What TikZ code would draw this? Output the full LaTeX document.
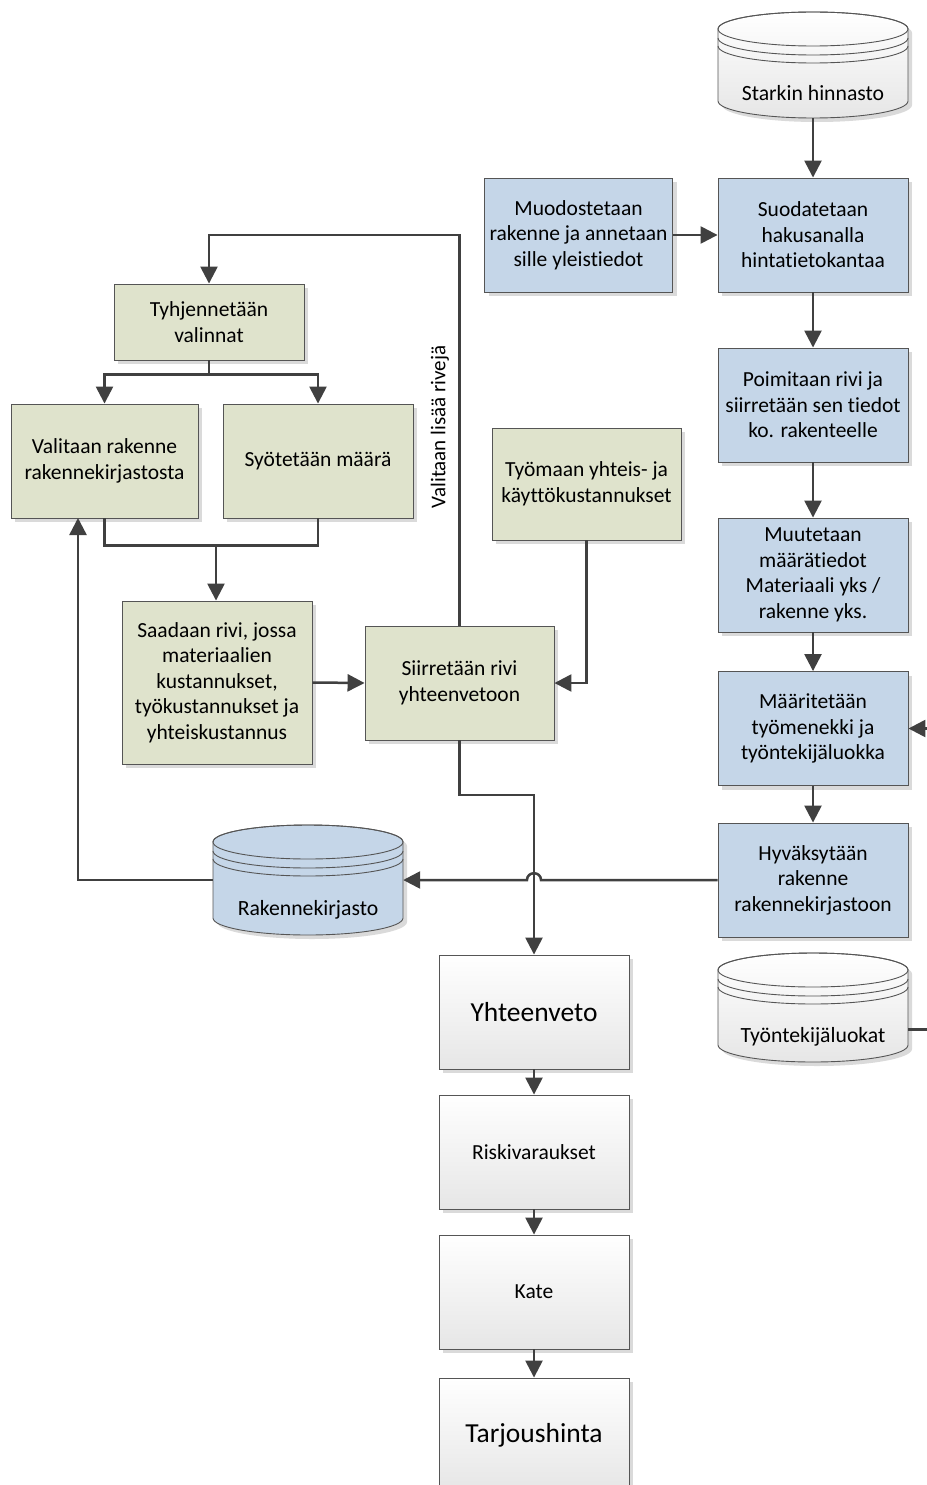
\documentclass[tikz,border=0pt]{standalone}
\usepackage{fontspec}
\setmainfont{Carlito}[Ligatures=NoCommon]
\usetikzlibrary{arrows.meta,shadows}
\definecolor{bluebox}{RGB}{197,214,232}
\definecolor{greenbox}{RGB}{223,227,204}
\definecolor{linec}{RGB}{64,64,64}
\definecolor{borderc}{RGB}{85,85,85}
\definecolor{shadowc}{RGB}{218,218,218}
\definecolor{graybot}{RGB}{230,230,230}
\newcommand\dbcyl[6]{%
  \pgfmathsetmacro\dbct{#3+17}%
  \pgfmathsetmacro\dbcb{#4-17}%
  \pgfmathsetmacro\dbxa{#2-95}%
  \pgfmathsetmacro\dbxb{#2+95}%
  \fill[shadowc,shift={(4,4)}] (\dbxa,\dbct) -- (\dbxa,\dbcb) arc[start angle=180,end angle=360,x radius=95pt,y radius=17pt] -- (\dbxb,\dbct) arc[start angle=0,end angle=180,x radius=95pt,y radius=17pt] -- cycle;
  \path[#5,draw=borderc,line width=0.9pt] (\dbxa,\dbct) -- (\dbxa,\dbcb) arc[start angle=180,end angle=360,x radius=95pt,y radius=17pt] -- (\dbxb,\dbct) arc[start angle=0,end angle=180,x radius=95pt,y radius=17pt] -- cycle;
  \draw[borderc,line width=0.9pt] (#2,\dbct) ellipse[x radius=95pt,y radius=17pt];
  \draw[borderc,line width=0.9pt] (\dbxa,\dbct+9) arc[start angle=180,end angle=360,x radius=95pt,y radius=17pt];
  \draw[borderc,line width=0.9pt] (\dbxa,\dbct+17) arc[start angle=180,end angle=360,x radius=95pt,y radius=17pt];
  \node[minimum width=190pt,minimum height={#4-#3},inner sep=0pt] (#1) at (#2,{(#3+#4)/2}) {};
  \node[font=\fontsize{21.7}{26}\selectfont,inner sep=0pt] (#1-t) at (#2,#4-25) {#6};
}
\begin{document}
\begin{tikzpicture}[x=1pt,y=-1pt,
  box/.style={draw=borderc,line width=0.9pt,minimum width=190pt,minimum height=114pt,
    inner sep=2pt,align=center,font=\fontsize{21.5}{25.5}\selectfont,
    drop shadow={shadow xshift=4pt,shadow yshift=-4pt,fill=shadowc,opacity=1}},
  bluebox/.style={box,fill=bluebox},
  greenbox/.style={box,fill=greenbox},
  graybox/.style={box,top color=white,bottom color=graybot},
  conn/.style={draw=linec,line width=2.5pt},
  arr/.style={conn,-{Triangle[length=17pt,width=17pt]}}]
\useasboundingbox (0,0) rectangle (926,1485);
\fill[white] (0,0) rectangle (926,1485);

% right column
\dbcyl{sta}{813}{12}{118}{top color=white,bottom color=graybot}{Starkin hinnasto}
\node[bluebox,minimum width=188pt] (muo) at (578.5,235) {Muodostetaan\\rakenne ja annetaan\\sille yleistiedot};
\node[bluebox] (suo) at (813,235) {Suodatetaan\\hakusanalla\\hintatietokantaa};
\node[bluebox] (poi) at (813,405) {Poimitaan rivi ja\\siirretään sen tiedot\\ko. rakenteelle};
\node[bluebox] (muu) at (813,575) {Muutetaan\\määrätiedot\\Materiaali yks /\\rakenne yks.};
\node[bluebox] (maa) at (813,728.5) {Määritetään\\työmenekki ja\\työntekijäluokka};
\node[bluebox] (hyv) at (813,880) {Hyväksytään\\rakenne\\rakennekirjastoon};
\dbcyl{tyl}{813}{953}{1062}{top color=white,bottom color=graybot}{Työntekijäluokat}

% left part
\node[greenbox,minimum height=76pt] (tyh) at (209,322) {Tyhjennetään\\valinnat};
\node[greenbox,minimum width=187pt] (val) at (104.5,461) {Valitaan rakenne\\rakennekirjastosta};
\node[greenbox] (syo) at (318,461) {Syötetään määrä};
\node[greenbox,minimum height=163pt] (saa) at (217,682.5) {Saadaan rivi, jossa\\materiaalien\\kustannukset,\\työkustannukset ja\\yhteiskustannus};
\node[greenbox,minimum width=189pt] (sii) at (459.5,683) {Siirretään rivi\\yhteenvetoon};
\node[greenbox,minimum width=189pt,minimum height=112pt] (tyo) at (586.5,484) {Työmaan yhteis- ja\\käyttökustannukset};
\dbcyl{rak}{308}{825}{935}{fill=bluebox}{Rakennekirjasto}

% bottom chain
\node[graybox,font=\fontsize{27.5}{32}\selectfont] (yht) at (534,1012) {Yhteenveto};
\node[graybox,font=\fontsize{21.5}{25}\selectfont] (ris) at (534,1152) {Riskivaraukset};
\node[graybox,font=\fontsize{21.5}{25}\selectfont] (kat) at (534,1292) {Kate};
\node[graybox,font=\fontsize{27.5}{32}\selectfont] (tar) at (534,1435) {Tarjoushinta};

% label
\node[rotate=90,font=\fontsize{21}{25}\selectfont,inner sep=0pt] (lbl) at (440,427) {Valitaan lisää rivejä};

% connectors right column
\draw[arr] (sta.south) -- (suo.north);
\draw[arr] (muo.east) -- (suo.west);
\draw[arr] (suo.south) -- (poi.north);
\draw[arr] (poi.south) -- (muu.north);
\draw[arr] (muu.south) -- (maa.north);
\draw[arr] (maa.south) -- (hyv.north);
\draw[arr] ([yshift=-22pt]tyl.east) -- ++(40,0) |- (maa.east);

% left connectors
\draw[arr] (tyh.south) -- ++(0,14) -| (val.north);
\draw[arr] (tyh.south) -- ++(0,14) -| (syo.north);
\draw[conn] (val.south) -- ++(0,27) -| (syo.south);
\coordinate (j1) at (216,545);
\draw[arr] (j1) -- (j1 |- saa.north);
\draw[arr] (saa.east) -- (sii.west);
\draw[arr] (tyo.south) |- (sii.east);
\coordinate (lp) at (459.5,235);
\draw[arr] (sii.north) -- (lp) -| (tyh.north);
\coordinate (j2) at (534,795);
\draw[arr] (sii.south) |- (j2) -- (yht.north);
\coordinate (hopR) at (541,880);
\coordinate (hopL) at (527,880);
\draw[arr] (hyv.west) -- (hopR) .. controls (541,871) and (527,871) .. (hopL) -- (rak.east);
\coordinate (vb) at (78,518);
\draw[arr] (rak.west) -| (vb);

% bottom chain
\draw[arr] (yht.south) -- (ris.north);
\draw[arr] (ris.south) -- (kat.north);
\draw[arr] (kat.south) -- (tar.north);
\end{tikzpicture}
\end{document}
